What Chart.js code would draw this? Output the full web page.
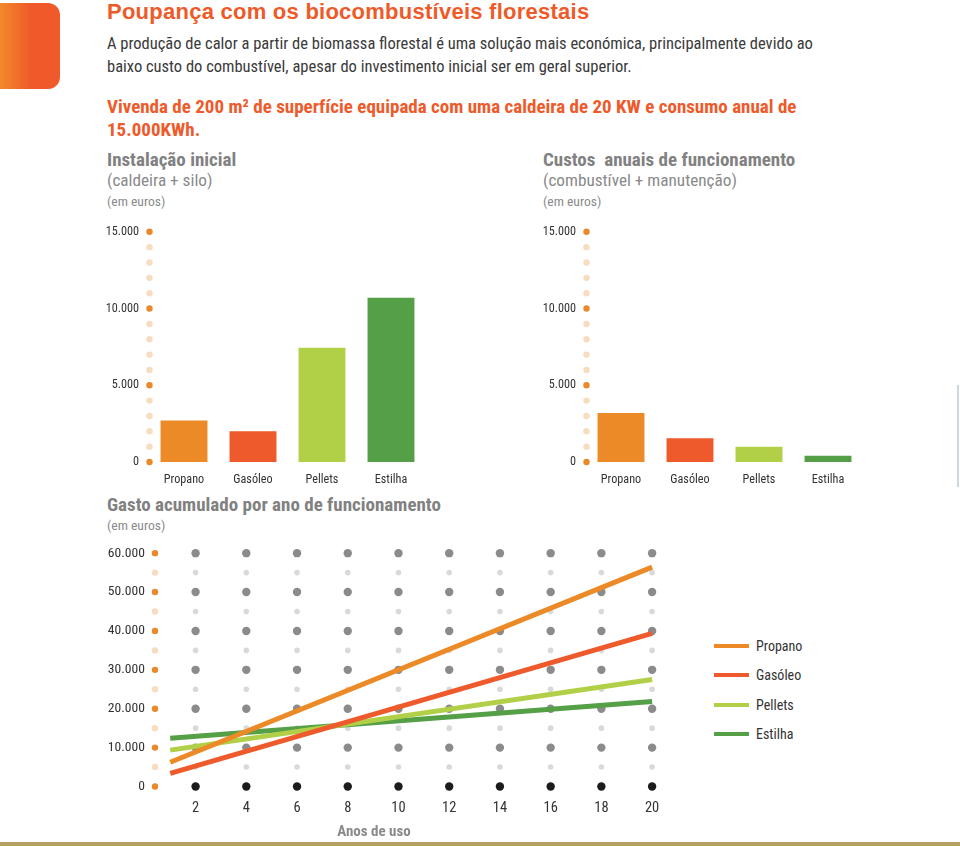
<!DOCTYPE html>
<html>
<head>
  <meta charset="UTF-8">
  <title>Poupança com os biocombustíveis florestais</title>
  <script src="https://cdn.jsdelivr.net/npm/chart.js"></script>
  <style>
    body {
      margin: 0;
      background: #fff;
      font-family: 'Roboto Condensed', 'Liberation Sans Narrow', 'DejaVu Sans Condensed', sans-serif;
      color: #333;
    }
    #page {
      position: relative;
      width: 960px;
      height: 846px;
      overflow: hidden;
    }
    #page > * { position: absolute; white-space: nowrap; }
    .badge {
      left: -12px; top: 3px; width: 72px; height: 86px;
      border-radius: 12px;
      background: linear-gradient(to right, #f39a2c, #f05a2a 60%);
    }
    .title {
      left: 107px; top: 0; font: bold 22px/24px 'Liberation Sans', sans-serif;
      letter-spacing: 0.25px;
      color: #ef5a29;
    }
    .intro { left: 107px; top: 32px; font-size: 16.5px; line-height: 23px; color: #3a3a3a; }
    .house { left: 107px; top: 95px; font-size: 19px; line-height: 23px; font-weight: bold; color: #ee5a2a; }
    .head { font-size: 19px; line-height: 22px; font-weight: bold; color: #818181; }
    .sub { font-size: 17.2px; line-height: 22px; color: #8a8a8a; }
    .unit { font-size: 13.6px; line-height: 18px; color: #8a8a8a; }
    .years { left: 324px; width: 100px; top: 822px; text-align: center; font-weight: bold; font-size: 15px; line-height: 18px; color: #8a8a8a; }
    #legend { left: 714px; top: 637px; display: flex; flex-direction: column; gap: 11.3px; }
    #legend div { display: flex; align-items: center; height: 18px; font-size: 14px; color: #333; }
    #legend span { display: inline-block; width: 35px; height: 4px; margin-right: 7px; }
    .band { left: 0; top: 842px; width: 960px; height: 4px; background: #b5a064; }
    .edge { left: 957px; top: 385px; width: 2px; height: 102px; background: #cfd6de; }
  </style>
</head>
<body>
<div id="page">
  <div class="badge"></div>
  <div class="title">Poupança com os biocombustíveis florestais</div>
  <div class="intro">A produção de calor a partir de biomassa florestal é uma solução mais económica, principalmente devido ao<br>baixo custo do combustível, apesar do investimento inicial ser em geral superior.</div>
  <div class="house">Vivenda de 200 m² de superfície equipada com uma caldeira de 20 KW e consumo anual de<br>15.000KWh.</div>

  <div class="head" style="left:107px;top:149px">Instalação inicial</div>
  <div class="sub" style="left:107px;top:169px">(caldeira + silo)</div>
  <div class="unit" style="left:107px;top:192px">(em euros)</div>

  <div class="head" style="left:543px;top:149px">Custos&nbsp; anuais de funcionamento</div>
  <div class="sub" style="left:543px;top:169px">(combustível + manutenção)</div>
  <div class="unit" style="left:543px;top:192px">(em euros)</div>

  <div class="head" style="left:107px;top:494px">Gasto acumulado por ano de funcionamento</div>
  <div class="unit" style="left:107px;top:516px">(em euros)</div>

  <canvas id="installChart" width="360" height="285" style="left:100px;top:214px"></canvas>
  <canvas id="annualChart" width="360" height="285" style="left:537px;top:214px"></canvas>
  <canvas id="totalChart" width="580" height="290" style="left:100px;top:535px"></canvas>

  <div class="years">Anos de uso</div>
  <div id="legend"></div>
  <div class="band"></div>
  <div class="edge"></div>
</div>

<script>
  // fuels and their colours
  const categories = ['Propano', 'Gasóleo', 'Pellets', 'Estilha'];
  const fuelColors = ['#ec8a27', '#ee5a2b', '#b1d047', '#55a047'];

  // initial install (boiler + silo), euros
  const installCost = [2700, 2000, 7450, 10700];
  // yearly running cost (fuel + maintenance), euros
  const annualCost = [3200, 1550, 1000, 400];

  // accumulated cost, read at the ends of each straight line
  const lineYears = [1, 20];
  const propanoTotal = [6250, 56400];
  const gasoleoTotal = [3350, 39350];
  const pelletsTotal = [9350, 27500];
  const estilhaTotal = [12400, 21850];

  const yearTicks = [2, 4, 6, 8, 10, 12, 14, 16, 18, 20];

  const fmt = v => String(v).replace(/\B(?=(\d{3})+(?!\d))/g, '.');

  Chart.defaults.font.family = "'Roboto Condensed', 'Liberation Sans Narrow', 'DejaVu Sans Condensed', sans-serif";
  Chart.defaults.color = '#333';

  function dot(ctx, x, y, r, color) {
    ctx.beginPath();
    ctx.arc(x, y, r, 0, Math.PI * 2);
    ctx.fillStyle = color;
    ctx.fill();
  }

  // dotted axis + dotted grid, placed from the chart's own scales
  const dotsPlugin = {
    id: 'dots',
    beforeDatasetsDraw(chart, args, opts) {
      const { ctx, chartArea, scales } = chart;
      ctx.save();
      scales.y.ticks.forEach(t => {
        const py = scales.y.getPixelForValue(t.value);
        const major = t.value % opts.major === 0;
        dot(ctx, chartArea.left, py, 3.2, major ? '#e9892c' : '#f8dcc0');
        (opts.columns || []).forEach(c => {
          const px = scales.x.getPixelForValue(c);
          if (t.value === 0) dot(ctx, px, py, 4.2, '#1c1c1c');
          else if (major) dot(ctx, px, py, 4.2, '#8b8b8b');
          else dot(ctx, px, py, 2.8, '#d9d9d9');
        });
      });
      ctx.restore();
    }
  };

  function barChart(id, values) {
    return new Chart(document.getElementById(id), {
      type: 'bar',
      data: {
        labels: categories,
        datasets: [{
          data: values,
          backgroundColor: fuelColors,
          barPercentage: 0.68,
          categoryPercentage: 1
        }]
      },
      options: {
        responsive: false,
        animation: false,
        layout: { padding: { top: 12, right: 34.5, left: 0, bottom: 0 } },
        plugins: {
          legend: { display: false },
          tooltip: { enabled: false },
          dots: { major: 5000 }
        },
        scales: {
          x: {
            grid: { display: false, drawTicks: false },
            border: { display: false },
            ticks: { padding: 10.5, font: { size: 12.2 } },
            afterFit: s => { s.height = 37; }
          },
          y: {
            min: 0,
            max: 15000,
            grid: { display: false, drawTicks: false },
            border: { display: false },
            ticks: {
              stepSize: 1000,
              autoSkip: false,
              padding: 10.5,
              font: { size: 12.2 },
              callback: v => v % 5000 === 0 ? fmt(v) : ''
            },
            afterFit: s => { s.width = 49.5; }
          }
        }
      },
      plugins: [dotsPlugin]
    });
  }

  barChart('installChart', installCost);
  barChart('annualChart', annualCost);

  const totals = [propanoTotal, gasoleoTotal, pelletsTotal, estilhaTotal];

  new Chart(document.getElementById('totalChart'), {
    type: 'line',
    data: {
      datasets: categories.map((name, i) => ({
        label: name,
        data: lineYears.map((yr, k) => ({ x: yr, y: totals[i][k] })),
        borderColor: fuelColors[i],
        borderWidth: 5,
        borderCapStyle: 'butt',
        pointRadius: 0,
        tension: 0
      }))
    },
    options: {
      responsive: false,
      animation: false,
      layout: { padding: { top: 12, right: 0, left: 0, bottom: 0 } },
      plugins: {
        legend: { display: false },
        tooltip: { enabled: false },
        dots: { major: 10000, columns: yearTicks }
      },
      scales: {
        x: {
          type: 'linear',
          min: 0.4,
          max: 21.1,
          grid: { display: false, drawTicks: false },
          border: { display: false },
          ticks: { padding: 13, font: { size: 14.5 }, autoSkip: false },
          afterBuildTicks: s => { s.ticks = yearTicks.map(v => ({ value: v })); },
          afterFit: s => { s.height = 38.5; }
        },
        y: {
          min: 0,
          max: 60000,
          grid: { display: false, drawTicks: false },
          border: { display: false },
          ticks: {
            stepSize: 5000,
            autoSkip: false,
            padding: 10,
            font: { size: 13.6 },
            callback: v => v % 10000 === 0 ? fmt(v) : ''
          },
          afterFit: s => { s.width = 55; }
        }
      }
    },
    plugins: [dotsPlugin]
  });

  // legend for the accumulated chart
  const legend = document.getElementById('legend');
  categories.forEach((name, i) => {
    const row = document.createElement('div');
    row.innerHTML = '<span style="background:' + fuelColors[i] + '"></span>' + name;
    legend.appendChild(row);
  });
</script>
</body>
</html>
